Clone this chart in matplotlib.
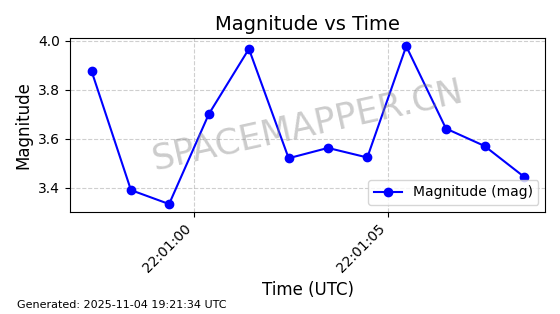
import matplotlib
matplotlib.use("Agg")
import matplotlib.pyplot as plt
import matplotlib.dates as mdates
import pandas as pd

times = ["2025-11-04 22:00:57.38", "2025-11-04 22:00:58.39", "2025-11-04 22:00:59.37",
         "2025-11-04 22:01:00.39", "2025-11-04 22:01:01.42", "2025-11-04 22:01:02.44",
         "2025-11-04 22:01:03.45", "2025-11-04 22:01:04.46", "2025-11-04 22:01:05.46",
         "2025-11-04 22:01:06.48", "2025-11-04 22:01:07.47", "2025-11-04 22:01:08.48"]
mags = [3.875, 3.39, 3.333, 3.70, 3.966, 3.52, 3.562, 3.523, 3.977, 3.641, 3.570, 3.445]

t = pd.to_datetime(times)

fig, ax = plt.subplots(figsize=(5.6, 3.14), dpi=100)
fig.subplots_adjust(left=0.125, right=0.974, top=0.878, bottom=0.325)

ax.plot(t, mags, color="blue", marker="o", markersize=6, linewidth=1.5,
        label="Magnitude (mag)")
ax.set_title("Magnitude vs Time", fontsize=14)
ax.set_xlabel("Time (UTC)", fontsize=12)
ax.set_ylabel("Magnitude", fontsize=12)
ax.grid(True, linestyle="--", alpha=0.6)
ax.xaxis.set_major_locator(mdates.SecondLocator(bysecond=range(0, 60, 5)))
ax.xaxis.set_major_formatter(mdates.DateFormatter("%H:%M:%S"))
plt.setp(ax.get_xticklabels(), rotation=45, ha="right")
ax.legend(loc="lower right")

ax.text(0.5, 0.5, "SPACEMAPPER.CN", transform=ax.transAxes, fontsize=25.5,
        color="gray", alpha=0.4, rotation=12.5, ha="center", va="center")

fig.text(0.03, 0.02, "Generated: 2025-11-04 19:21:34 UTC", fontsize=8)

fig.savefig("out.png", dpi=100)
